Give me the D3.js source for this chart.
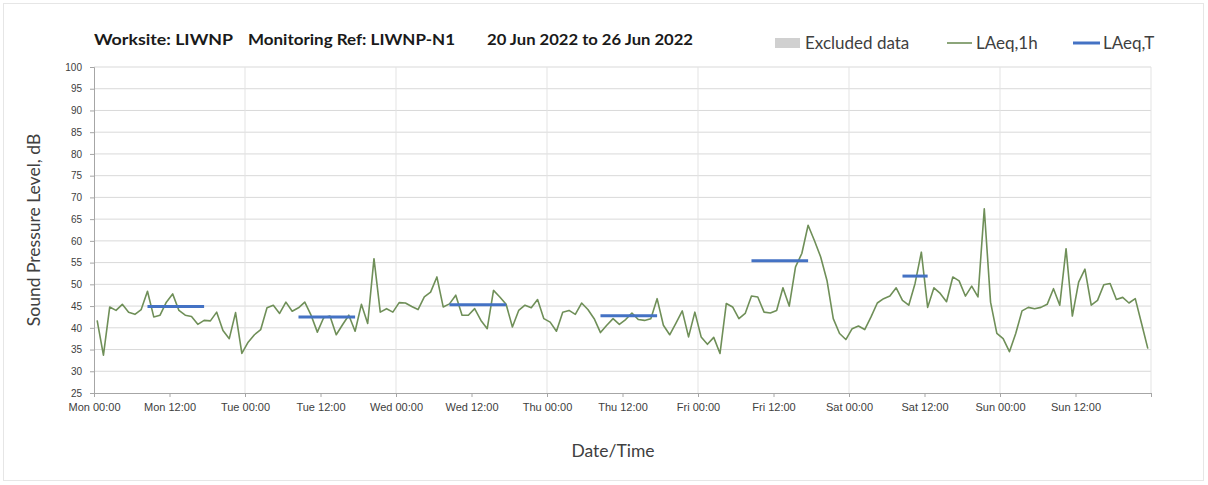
<!DOCTYPE html>
<html>
<head>
<meta charset="utf-8">
<script src="https://cdn.jsdelivr.net/npm/d3@7"></script>
<style>
  body { margin: 0; background: #fff; }
  svg { font-family: Lato, "Open Sans", sans-serif; }
</style>
</head>
<body>
<svg id="chart" width="1208" height="485"></svg>
<script>
// hourly LAeq,1h from Mon 20 Jun 2022 00:00 (one value per hour)
var hourly = [
    41.7, 33.7, 44.8, 44.0, 45.4, 43.6, 43.1, 44.2, 48.4, 42.5, 42.9, 45.9,
    47.8, 44.0, 42.9, 42.6, 40.8, 41.7, 41.6, 43.6, 39.4, 37.5, 43.5, 34.1,
    36.7, 38.4, 39.6, 44.6, 45.2, 43.3, 45.9, 43.8, 44.6, 45.9, 42.9, 39.0,
    42.3, 42.7, 38.4, 40.7, 42.9, 39.2, 45.4, 41.0, 55.9, 43.6, 44.4, 43.6,
    45.8, 45.7, 44.9, 44.2, 47.1, 48.2, 51.7, 44.8, 45.5, 47.5, 42.9, 42.9,
    44.4, 41.7, 39.8, 48.6, 47.1, 45.4, 40.2, 44.0, 45.2, 44.6, 46.5, 42.1,
    41.3, 39.2, 43.6, 44.0, 43.1, 45.7, 44.2, 42.1, 38.9, 40.6, 42.1, 40.8,
    41.9, 43.4, 41.9, 41.7, 42.1, 46.7, 40.6, 38.4, 41.1, 43.9, 37.9, 43.6,
    37.9, 36.2, 37.8, 34.1, 45.6, 44.8, 42.1, 43.3, 47.3, 47.1, 43.6, 43.4,
    44.0, 49.2, 45.0, 54.0, 57.1, 63.6, 60.1, 56.3, 50.9, 42.1, 38.7, 37.3,
    39.8, 40.4, 39.6, 42.5, 45.7, 46.7, 47.3, 49.2, 46.3, 45.2, 50.2, 57.4,
    44.7, 49.2, 47.9, 46.0, 51.7, 50.8, 47.3, 49.6, 47.1, 67.4, 45.9, 38.7,
    37.5, 34.5, 38.7, 43.9, 44.7, 44.4, 44.7, 45.4, 49.0, 45.2, 58.2, 42.7,
    50.5, 53.5, 45.2, 46.3, 49.9, 50.2, 46.5, 47.0, 45.7, 46.7, 41.0, 35.2
];

// LAeq,T periods: first and last hour index, level
var periodStart = [8, 32, 56, 80, 104, 128];
var periodEnd = [17, 41, 65, 89, 113, 132];
var periodLevel = [44.9, 42.5, 45.3, 42.8, 55.4, 51.9];

var yTicks = d3.range(25, 101, 5);
var titleParts = ['Worksite: LIWNP', 'Monitoring Ref: LIWNP-N1', '20 Jun 2022 to 26 Jun 2022'];
var legendItems = ['Excluded data', 'LAeq,1h', 'LAeq,T'];

var start = new Date(Date.UTC(2022, 5, 20));
var end = new Date(Date.UTC(2022, 5, 27));

function hourTime(i) {
    // plotted at the middle of each hour
    return new Date(start.getTime() + (i + 0.5) * 3600000);
}

var svg = d3.select('svg#chart');

// chart area border
svg.append('rect')
    .attr('x', 3.5).attr('y', 3.5)
    .attr('width', 1200).attr('height', 477)
    .attr('fill', 'none')
    .attr('stroke', '#e6e6e6');

var x = d3.scaleUtc().domain([start, end]).range([94, 1151]);
var y = d3.scaleLinear().domain([25, 100]).range([393, 67]);

// horizontal grid
svg.append('g')
    .selectAll('line')
    .data(yTicks.slice(1))
    .enter().append('line')
    .attr('x1', x.range()[0]).attr('x2', x.range()[1])
    .attr('y1', d => y(d)).attr('y2', d => y(d))
    .attr('stroke', '#d9d9d9').attr('stroke-width', 1);

// vertical grid at day boundaries
svg.append('g')
    .selectAll('line')
    .data(d3.utcDay.range(d3.utcDay.offset(start, 1), d3.utcDay.offset(end, 1)))
    .enter().append('line')
    .attr('x1', d => x(d)).attr('x2', d => x(d))
    .attr('y1', y(100)).attr('y2', y(25))
    .attr('stroke', '#e3e3e3').attr('stroke-width', 1);

var yAxis = d3.axisLeft(y).tickValues(yTicks).tickSize(4).tickPadding(8);
var gY = svg.append('g')
    .attr('transform', 'translate(' + x.range()[0] + ',0)')
    .call(yAxis);

var xAxis = d3.axisBottom(x)
    .ticks(d3.utcHour.every(12))
    .tickFormat(d3.utcFormat('%a %H:%M'))
    .tickSize(4).tickPadding(6);
var gX = svg.append('g')
    .attr('transform', 'translate(0,' + y(25) + ')')
    .call(xAxis);

[gX, gY].forEach(function(g) {
    g.select('.domain').attr('stroke', '#a6a6a6');
    g.selectAll('.tick line').attr('stroke', '#a6a6a6');
    g.selectAll('.tick text').attr('fill', '#404040').style('font-size', '11px');
});
gY.selectAll('.tick text').style('font-size', '10px');
gX.selectAll('.tick').filter(d => +d === +end).select('text').remove();

var valueline = d3.line()
    .x((d, i) => x(hourTime(i)))
    .y(d => y(d));

svg.append('path')
    .datum(hourly)
    .attr('d', valueline)
    .attr('fill', 'none')
    .attr('stroke', '#6f8f58')
    .attr('stroke-width', 1.6)
    .attr('stroke-linejoin', 'round');

svg.append('g')
    .selectAll('line')
    .data(periodLevel)
    .enter().append('line')
    .attr('x1', (d, i) => x(hourTime(periodStart[i])))
    .attr('x2', (d, i) => x(hourTime(periodEnd[i])))
    .attr('y1', d => y(d)).attr('y2', d => y(d))
    .attr('stroke', '#4472c4')
    .attr('stroke-width', 3);

// title, three parts spaced like the original
var titleX = [94, 248, 487];
var titleW = [139, 207, 206];
svg.append('g')
    .selectAll('text')
    .data(titleParts)
    .enter().append('text')
    .attr('x', (d, i) => titleX[i]).attr('y', 45)
    .attr('textLength', (d, i) => titleW[i])
    .attr('lengthAdjust', 'spacingAndGlyphs')
    .attr('fill', '#1a1a1a')
    .style('font-size', '16px').style('font-weight', 'bold')
    .text(d => d);

// legend
var legend = svg.append('g').style('font-size', '17px').attr('fill', '#404040');
legend.append('rect')
    .attr('x', 775).attr('y', 38).attr('width', 25).attr('height', 10)
    .attr('fill', '#d0d0d0');
legend.append('text').attr('x', 805).attr('y', 49).text(legendItems[0]);
legend.append('line')
    .attr('x1', 947).attr('x2', 972).attr('y1', 43).attr('y2', 43)
    .attr('stroke', '#6f8f58').attr('stroke-width', 1.6);
legend.append('text').attr('x', 976).attr('y', 49).text(legendItems[1]);
legend.append('line')
    .attr('x1', 1073).attr('x2', 1100).attr('y1', 43).attr('y2', 43)
    .attr('stroke', '#4472c4').attr('stroke-width', 3);
legend.append('text').attr('x', 1103).attr('y', 49).text(legendItems[2]);

// axis titles
svg.append('text')
    .attr('transform', 'translate(40,230) rotate(-90)')
    .attr('text-anchor', 'middle')
    .attr('fill', '#404040')
    .style('font-size', '17.5px')
    .text('Sound Pressure Level, dB');

svg.append('text')
    .attr('x', 613).attr('y', 457)
    .attr('text-anchor', 'middle')
    .attr('fill', '#404040')
    .style('font-size', '17.5px')
    .text('Date/Time');
</script>
</body>
</html>
